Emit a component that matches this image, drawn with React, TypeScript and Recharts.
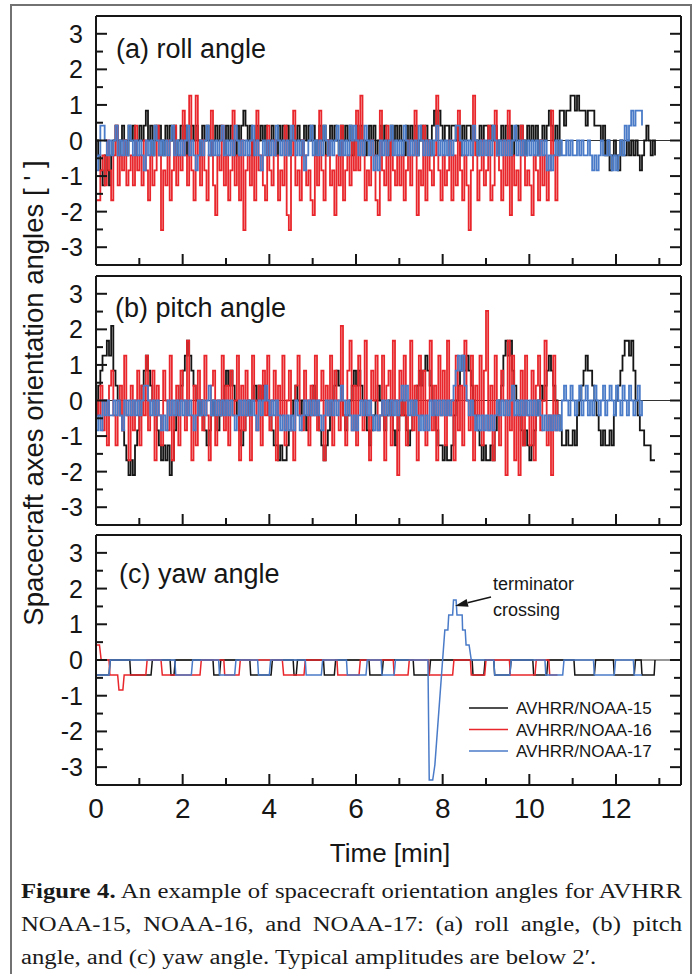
import { LineChart, Line, XAxis, YAxis, ReferenceLine } from 'recharts'

// angles are read in steps of the attitude readout (about 0.42 arcmin)
const STEP = 0.42
// minutes between two samples of the roll / pitch records
const DT = 0.05

const X_TICKS = [0, 1, 2, 3, 4, 5, 6, 7, 8, 9, 10, 11, 12, 13]
const X_LABELS = [0, 2, 4, 6, 8, 10, 12]
const Y_TICKS = [-3, -2.5, -2, -1.5, -1, -0.5, 0, 0.5, 1, 1.5, 2, 2.5, 3]
const Y_LABELS = [-3, -2, -1, 0, 1, 2, 3]

const NAMES = ['AVHRR/NOAA-15', 'AVHRR/NOAA-16', 'AVHRR/NOAA-17']
const COLORS = ['#151515', '#e8262b', '#4a7bc8']

// (a) roll, levels in STEP units, one row per minute
const ROLL_15 = [
  0, -1, -2, -3, -1, -2, -3, -1, 0, 1, -1, 0, 1, 0, -1, 1, 0, 1, -1, 0,
  1, 0, 1, 2, 0, 1, -1, 1, 0, 1, 0, -1, 1, 0, 1, 0, 1, -1, 0, 1,
  0, 1, -1, 0, 1, 0, 1, 0, -1, 1, 0, 1, 0, -1, 0, 1, 0, 1, 0, -1,
  1, 0, 1, 0, -1, 1, 0, 1, 2, 1, 0, 1, -1, 0, 1, 0, 1, 0, 1, -1,
  0, 1, 0, -1, 1, 0, 1, 0, 1, -1, 0, 1, 0, 1, 0, -1, 1, 0, 1, 0,
  1, -1, 0, 1, 0, 1, -1, 0, 1, 0, 1, 0, -1, 1, 0, 1, 0, 1, -1, 0,
  1, 0, 1, 0, -1, 0, 1, 0, 1, -1, 0, 1, 0, 1, 0, -1, 1, 0, 1, 0,
  1, 0, -1, 1, 0, 1, 0, 1, -1, 0, 1, 0, 1, 0, -1, 1, 2, 1, 2, 1,
  0, 1, 1, 0, 1, 1, 0, 1, -1, 1, 0, 1, 1, 0, 1, 0, -1, 1, 0, 1,
  1, 0, 1, 0, 1, -1, 0, 1, 0, 1, 0, 1, -1, 0, 1, 0, 1, 0, -1, 1,
  0, 1, 0, 1, -1, 0, 1, 0, 1, 2, 1, 0, 1, -1, 2, 2, 1, 2, 2, 3,
  3, 2, 3, 2, 2, 2, 1, 2, 2, 2, 1, 1, 1, 0, 1, -1, 0, -2, -1, 0,
  -1, -2, 0, -1, -1, 0, -1, 0, -1, 0, -1, -2, -1, 0, 1, 0, -1, 0, -1,
]
const ROLL_16 = [
  -4, -4, -2, -1, -3, 0, -2, -4, -1, 1, -3, -1, -2, 0, -3, -2, -1, -3, 1, -2,
  -1, -3, 0, -2, -4, -1, -3, -2, 1, -1, -6, -2, -3, 0, -4, -2, 1, -3, -1, -2,
  2, -1, -3, 3, -2, -4, 3, -1, -3, 0, -2, -4, -1, 2, -3, -5, -1, -2, 1, -3,
  -1, -4, -2, 2, -3, -1, -4, 0, -6, -2, -1, -3, 0, -4, 2, -2, -1, -3, -4, 1,
  -2, -3, 0, -1, -4, -2, -3, 1, -5, -6, -1, 2, -3, -2, -4, 0, -1, -3, -2, -4,
  -5, -1, -3, 2, -2, -4, -1, 0, -3, -2, -5, -1, -3, 1, -4, -2, -1, -3, 0, -2,
  2, -2, 3, -1, -4, -2, -3, 0, -1, -4, -5, 2, -2, -3, 1, -4, 0, -2, -3, -1,
  -3, -1, -4, -2, 0, -3, -1, 2, -5, -2, -3, 1, -4, 0, -2, -3, -1, 3, -2, -4,
  -1, -3, -2, 0, -4, -1, -3, 2, -2, -4, -1, -3, -6, -2, 3, -1, -4, -2, 0, -3,
  -2, 1, -4, -3, 2, -1, -2, -4, 0, -3, 2, -5, -1, -3, -2, -4, 1, -1, -3, -2,
  -3, -5, -1, -2, -4, 0, -3, -1, -4, -2, 2, -1, -4, -1,
]
const ROLL_17 = [
  -2, -1, 1, 1, 0, -1, 0, -1, 0, 1, -1, 0, -1, 0, -1, 1, 0, -1, 0, -1,
  0, -1, -2, 0, -1, 0, -1, 1, 0, -1, 0, -1, 0, -1, 0, 1, -1, 0, -1, 0,
  -1, 0, 1, -1, 0, -1, -2, -1, 0, -1, 0, 1, -1, 0, -1, 0, -1, 0, 1, -1,
  0, -1, 0, -1, 1, 0, -1, 0, -1, 0, -1, 0, 1, -1, 0, -1, -2, 0, -1, 0,
  -1, 0, -1, 1, 0, -1, 0, -1, 0, -1, 1, 0, -1, 0, -1, 0, -2, -1, 0, 1,
  -1, 0, -1, 0, -1, 1, 0, -1, 0, -1, 0, 1, -1, 0, -1, 0, -1, 1, 0, 1,
  0, -1, 0, -1, 1, 0, -1, 0, -2, -1, -2, 0, -1, 0, -1, 0, 1, -1, 0, -1,
  0, -1, 1, 0, -1, 0, -1, 0, -1, 1, 0, -1, 0, -1, 0, -1, 0, 1, -1, 0,
  -1, 0, -1, 0, -1, 0, 1, 1, 0, -1, 0, -1, 0, -1, 1, 0, -1, 0, -1, 0,
  -1, 0, -1, 1, 0, -1, 0, -1, 0, -1, 0, -1, 0, 1, -1, 0, -1, 0, -1, 0,
  -1, 0, -1, 0, -1, 0, -1, 0, -2, -1, -2, -1, 0, -1, 0, -1, -1, 0, -1, 0,
  -1, -1, 0, -1, 0, -1, -1, 0, -1, -2, -1, -2, -1, 0, -1, -1, 0, -1, -2, -1,
  -2, -1, 0, -1, 1, 0, 1, 2, 1, 2, 2, 2, 1,
]

// (b) pitch
const PITCH_15 = [
  -1, 1, 2, 3, 3, 4, 3, 5, 2, 1, 0, -1, -2, -3, -4, -5, -4, -5, -3, -2,
  -1, 1, 2, 3, 2, 1, 0, -1, -2, -3, -4, -3, -4, -3, -5, -4, -2, -1, 0, 1,
  2, 3, 4, 3, 2, 1, 0, -1, 0, -1, -2, -3, -2, -1, 0, -1, -2, -1, 0, 1,
  2, 1, 2, 1, 0, -1, -2, -3, -2, -1, 0, -1, 0, 1, 0, 1, 0, 1, 1, 0,
  -1, -2, -3, -3, -4, -3, -4, -4, -3, -2, -1, 0, 1, 0, -1, 0, -1, -2, -1, 0,
  1, 0, -1, -2, -3, -4, -3, -2, -1, 0, 1, 2, 1, 0, -1, -2, -1, 0, 1, 2,
  1, 2, 1, 0, -1, -2, -3, -2, -1, 0, 1, 0, -1, -2, -1, 0, -1, -2, -3, -2,
  -1, 0, -1, -2, -3, -2, -1, 0, 1, 2, 1, 2, 3, 2, 1, 0, -1, -2, -3, -3,
  -4, -3, -4, -4, -3, -1, 0, 1, 2, 3, 2, 3, 2, 1, 0, -1, -2, -3, -4, -3,
  -4, -4, -3, -4, -2, -1, 0, 1, 3, 4, 3, 4, 2, 1, 0, -1, -2, -3, -2, -3,
  -4, -3, -2, -1, 0, 1, 0, 1, 2, 3, 2, 1, 0, -1, -2, -3, -3, -2, -3, -3,
  -2, -3, -1, 0, 1, 2, 3, 2, 2, 1, 0, -1, -2, -3, -2, -3, -3, -2, -3, -1,
  0, 1, 2, 3, 4, 4, 3, 4, 2, 0, -1, -2, -2, -3, -3, -3, -4, -4, -4,
]
const PITCH_16 = [
  0, -1, 1, -2, 0, -3, 1, 2, -1, -3, 0, 1, -2, 3, -1, -4, 1, -2, 0, 2,
  -3, 1, -1, 3, -2, 0, 2, -4, 1, -1, -3, 2, 0, -2, 3, -4, -1, 1, -3, 2,
  0, -2, 4, -1, -4, 1, -3, 2, 0, -2, 3, -1, -4, 1, 2, -3, 0, -1, 3, -2,
  1, -3, 2, -1, 0, 3, -4, 1, -2, 2, -1, -4, 3, 0, -2, 1, -3, 2, -1, 3,
  -2, 0, 2, -4, 1, -1, 3, -3, 0, 2, -2, -4, 1, 3, -1, -2, 2, 0, -3, 1,
  -1, 3, -2, 0, 2, -4, 1, -1, 3, -3, 2, 0, -2, 5, -1, -3, 2, 4, -2, 1,
  -3, 3, 0, -2, 4, -1, -4, 2, 0, 3, -2, -1, 3, -4, 1, 2, -3, 4, 0, -5,
  2, -1, 3, -3, 0, 4, -2, 1, -4, 3, -1, 2, -3, 0, 4, -2, 1, -4, 3, -1,
  2, -3, 4, -1, 0, -4, 3, -2, 1, -3, 4, 0, -2, 3, -4, 1, -1, 3, -3, 2,
  6, -2, 1, -4, 3, -1, -3, 2, 0, -5, 4, -2, 3, -4, -1, -5, 2, -3, 3, -1,
  -3, 2, -4, 1, 3, -2, 0, 4, -3, -1, -5, 3, -2, 0,
]
const PITCH_17 = [
  -2, -1, -2, 0, -1, 0, -1, -1, 0, -1, 0, -1, -2, 0, -1, 0, -1, 0, -1, 0,
  -1, 0, 1, 1, 0, -1, 0, -1, 0, -1, -2, -1, -2, 0, -1, 0, -1, 0, -1, 0,
  -1, 0, -1, 0, -1, -2, -1, 0, -1, 0, -1, 0, 1, -1, 0, -1, 0, -1, 0, -1,
  0, -1, 0, -1, -2, -1, 0, -1, 0, -1, 0, -1, 0, -1, -2, 0, -1, 0, 1, 0,
  -1, 0, -1, 0, -1, -2, -1, -2, -1, -2, -1, -2, 0, -1, -2, -1, 0, -1, 0, -1,
  0, -1, 0, -1, -2, -1, 0, -1, 0, -1, 0, -1, 0, 1, 0, -1, 0, -1, -2, -1,
  -2, -1, 0, -1, 0, -1, 0, -1, -2, -1, -2, -1, 0, -1, 0, -1, 0, -1, 0, -1,
  0, 1, 0, 1, -1, 0, -1, 0, -1, -2, -1, -2, -1, -2, 0, -1, 0, -1, 0, -1,
  0, -1, 0, -1, 0, 1, 2, 3, 2, 3, 1, 0, -1, 0, -1, -2, -1, -2, -1, -2,
  -1, -2, -1, -2, -1, 0, -1, 0, -1, 0, -1, 0, 1, -1, 0, -1, 0, -1, 0, -1,
  0, -1, 0, -1, 0, -1, -2, -1, -2, -1, -2, -1, -2, -1, -2, 0, 1, 0, -1, 1,
  0, -1, 0, 1, -1, 0, 1, -1, 0, -1, 1, 0, -1, 0, 1, -1, 0, 1, 0, -1,
  1, 0, -1, 1, 0, -1, 1, 0, -1, 0, 1, -1, 0,
]

// (c) yaw, [time min, level] corners of the stepped records
const YAW_15 = [
  [0, -1], [0.3, -1], [0.33, 0], [0.78, 0], [0.8, -1], [1.27, -1], [1.3, 0], [1.71, 0],
  [1.73, -1], [1.8, -1], [1.83, 0], [2.7, 0], [2.72, -1], [2.85, -1], [2.88, 0], [3.55, 0],
  [3.57, -1], [4.04, -1], [4.07, 0], [4.55, 0], [4.57, -1], [4.62, -1], [4.65, 0], [5.25, 0],
  [5.27, -1], [5.5, -1], [5.53, 0], [6.3, 0], [6.32, -1], [6.6, -1], [6.63, 0], [7.32, 0],
  [7.34, -1], [7.69, -1], [7.72, 0], [8.68, 0], [8.7, -1], [8.95, -1], [8.98, 0], [9.18, 0],
  [9.2, -1], [9.55, -1], [9.58, 0], [10.08, 0], [10.1, -1], [10.4, -1], [10.43, 0], [11.03, 0],
  [11.05, -1], [11.5, -1], [11.53, 0], [11.94, 0], [11.96, -1], [12.42, -1], [12.45, 0], [12.58, 0],
  [12.6, -1], [12.88, -1], [12.9, 0],
]
const YAW_16 = [
  [0, 1], [0.08, 1], [0.12, 0], [0.3, 0], [0.32, -1], [0.5, -1], [0.53, -2], [0.62, -2],
  [0.65, -1], [1.15, -1], [1.18, 0], [1.5, 0], [1.53, -1], [2.4, -1], [2.43, 0], [2.95, 0],
  [2.97, -1], [3.3, -1], [3.33, 0], [4.3, 0], [4.33, -1], [4.8, -1], [4.83, 0], [5.56, 0],
  [5.58, -1], [6.07, -1], [6.1, 0], [6.86, 0], [6.88, -1], [7.2, -1], [7.23, 0], [7.67, 0],
  [7.69, -1], [8.23, -1], [8.26, 0], [8.64, 0], [8.66, -1], [8.97, -1], [9.0, 0], [9.54, 0],
  [9.56, -1], [10.13, -1], [10.16, 0], [10.45, 0], [10.47, -1], [10.65, -1],
]
const YAW_17 = [
  [0, -1], [0.3, -1], [0.33, 0], [1.82, 0], [1.84, -1], [2.2, -1], [2.23, 0], [2.83, 0],
  [2.85, -1], [3.2, -1], [3.23, 0], [3.73, 0], [3.75, -1], [4.0, -1], [4.03, 0], [4.83, 0],
  [4.85, -1], [5.2, -1], [5.23, 0], [5.78, 0], [5.8, -1], [6.23, -1], [6.26, 0], [6.58, 0],
  [6.6, -1], [6.88, -1], [6.91, 0], [7.66, 0], [7.69, -8], [7.77, -8], [7.82, -7], [8.05, 2],
  [8.12, 2], [8.14, 3], [8.23, 3], [8.25, 4], [8.31, 4], [8.33, 3], [8.45, 3], [8.46, 2],
  [8.52, 2], [8.54, 1], [8.61, 1], [8.66, 0], [9.18, 0], [9.2, -1], [9.55, -1], [9.58, 0],
  [10.36, 0], [10.38, -1], [10.77, -1], [10.8, 0], [11.48, 0], [11.5, -1], [11.96, -1], [11.99, 0],
  [12.4, 0], [12.42, -1], [12.6, -1],
]

const sampled = (levels: number[]) =>
  levels.map((l, i) => ({ t: Math.round(i * DT * 100) / 100, v: l * STEP }))
const stepped = (pts: number[][]) => pts.map(([t, l]) => ({ t, v: l * STEP }))

const INK = '#161616'
const SANS = 'Liberation Sans, Arial, Helvetica, sans-serif'
const SERIF = 'Liberation Serif, Times New Roman, serif'
const FRAME = { stroke: INK, strokeWidth: 2 }

// plot box, page pixels
const LEFT = 96
const RIGHT = 681

function LeftTick({ x, y, payload }: any) {
  const major = Y_LABELS.includes(payload.value)
  return (
    <g>
      <line x1={x} x2={x + (major ? 11 : 7)} y1={y} y2={y} stroke={INK} strokeWidth={2} />
      {major && (
        <text x={x - 13} y={y} dy="0.36em" textAnchor="end" fontSize={25} fill={INK} fontFamily={SANS}>
          {payload.value}
        </text>
      )}
    </g>
  )
}

function RightTick({ x, y, payload }: any) {
  const major = Y_LABELS.includes(payload.value)
  return <line x1={x} x2={x - (major ? 11 : 7)} y1={y} y2={y} stroke={INK} strokeWidth={2} />
}

function TopTick({ x, y, payload }: any) {
  const major = X_LABELS.includes(payload.value)
  return <line x1={x} x2={x} y1={y} y2={y + (major ? 11 : 7)} stroke={INK} strokeWidth={2} />
}

function makeBottomTick(showLabels: boolean) {
  return ({ x, y, payload }: any) => {
    const major = X_LABELS.includes(payload.value)
    return (
      <g>
        <line x1={x} x2={x} y1={y} y2={y - (major ? 11 : 7)} stroke={INK} strokeWidth={2} />
        {showLabels && major && (
          <text x={x} y={y + 33} textAnchor="middle" fontSize={28} fill={INK} fontFamily={SANS}>
            {payload.value}
          </text>
        )}
      </g>
    )
  }
}

interface PanelProps {
  top: number
  plotH: number
  series: { t: number; v: number }[][]
  curve: 'stepAfter' | 'linear'
  width: number
  labels?: boolean
}

function Panel({ top, plotH, series, curve, width, labels = false }: PanelProps) {
  const bottomH = labels ? 45 : 10
  return (
    <div style={{ position: 'absolute', left: 0, top: top - 10 }}>
      <LineChart width={696} height={10 + plotH + bottomH} margin={{ top: 0, right: 0, bottom: 0, left: 0 }}>
        <XAxis
          xAxisId="b" dataKey="t" type="number" domain={[0, 13.5]} ticks={X_TICKS} interval={0}
          height={bottomH} tickSize={0} tickMargin={0} tickLine={false} axisLine={FRAME}
          tick={makeBottomTick(labels)} allowDataOverflow
        />
        <XAxis
          xAxisId="t" orientation="top" type="number" domain={[0, 13.5]} ticks={X_TICKS} interval={0}
          height={10} tickSize={0} tickMargin={0} tickLine={false} axisLine={FRAME}
          tick={TopTick} allowDataOverflow
        />
        <YAxis
          yAxisId="l" type="number" domain={[-3.5, 3.5]} ticks={Y_TICKS} interval={0}
          width={LEFT} tickSize={0} tickMargin={0} tickLine={false} axisLine={FRAME}
          tick={LeftTick} allowDataOverflow
        />
        <YAxis
          yAxisId="r" orientation="right" type="number" domain={[-3.5, 3.5]} ticks={Y_TICKS} interval={0}
          width={696 - RIGHT} tickSize={0} tickMargin={0} tickLine={false} axisLine={FRAME}
          tick={RightTick} allowDataOverflow
        />
        <ReferenceLine xAxisId="b" yAxisId="l" y={0} stroke="#333" strokeWidth={1.2} />
        {series.map((d, i) => (
          <Line
            key={NAMES[i]}
            xAxisId="b"
            yAxisId="l"
            data={d}
            dataKey="v"
            name={NAMES[i]}
            type={curve}
            stroke={COLORS[i]}
            strokeWidth={width}
            dot={false}
            isAnimationActive={false}
          />
        ))}
      </LineChart>
    </div>
  )
}

// annotation arrow for the terminator crossing, page pixels
const ARROW_TAIL = [491, 597]
const ARROW_TIP = [455, 606]

function Arrow() {
  const [x1, y1] = ARROW_TAIL
  const [x2, y2] = ARROW_TIP
  const len = Math.hypot(x2 - x1, y2 - y1)
  const ux = (x2 - x1) / len
  const uy = (y2 - y1) / len
  const bx = x2 - ux * 13
  const by = y2 - uy * 13
  const w = 4
  return (
    <g>
      <line x1={x1} y1={y1} x2={bx} y2={by} stroke={INK} strokeWidth={1.5} />
      <polygon points={`${x2},${y2} ${bx - uy * w},${by + ux * w} ${bx + uy * w},${by - ux * w}`} fill={INK} />
    </g>
  )
}

const PANEL_LABELS = [
  { text: '(a) roll angle', x: 116, y: 58 },
  { text: '(b) pitch angle', x: 115, y: 317 },
  { text: '(c) yaw angle', x: 119, y: 583 },
]

// the caption face is set wide: 20px glyphs stretched sideways
const CAPTION_STRETCH = 1.235
const CAPTION_W = 661

export default function App() {
  const line = { whiteSpace: 'nowrap' as const, textAlign: 'justify' as const, textAlignLast: 'justify' as const }
  return (
    <div style={{ position: 'absolute', left: 0, top: 0, width: 696, height: 974, overflow: 'hidden', background: '#fff' }}>
      <div
        style={{
          position: 'absolute', left: 10, top: 4, width: 682, height: 1000,
          border: '2px solid #727272', boxSizing: 'border-box',
        }}
      />
      <Panel top={16} plotH={249} curve="stepAfter" width={1.8}
        series={[sampled(ROLL_15), sampled(ROLL_16), sampled(ROLL_17)]} />
      <Panel top={276} plotH={249} curve="stepAfter" width={1.8}
        series={[sampled(PITCH_15), sampled(PITCH_16), sampled(PITCH_17)]} />
      <Panel top={535} plotH={250} curve="linear" width={1.5} labels
        series={[stepped(YAW_15), stepped(YAW_16), stepped(YAW_17)]} />

      <svg width={696} height={974} style={{ position: 'absolute', left: 0, top: 0, pointerEvents: 'none' }}>
        {PANEL_LABELS.map(p => (
          <text key={p.text} x={p.x} y={p.y} fontSize={27} fill={INK} fontFamily={SANS}>{p.text}</text>
        ))}
        <text
          transform="translate(43 393) rotate(-90)" textAnchor="middle"
          fontSize={27.5} fill={INK} fontFamily={SANS}
        >
          Spacecraft axes orientation angles [ ' ]
        </text>
        <text x={390} y={862} textAnchor="middle" fontSize={26} fill={INK} fontFamily={SANS}>Time [min]</text>

        {NAMES.map((n, i) => (
          <g key={n}>
            <line x1={469} x2={508} y1={708 + i * 21.5} y2={708 + i * 21.5} stroke={COLORS[i]} strokeWidth={1.5} />
            <text x={516} y={708 + i * 21.5 + 6} fontSize={17} fill={INK} fontFamily={SANS}>{n}</text>
          </g>
        ))}

        <text x={493} y={590} fontSize={18} fill={INK} fontFamily={SANS}>terminator</text>
        <text x={493} y={616} fontSize={18} fill={INK} fontFamily={SANS}>crossing</text>
        <Arrow />
      </svg>

      <div
        style={{
          position: 'absolute', left: 21, top: 875, width: CAPTION_W / CAPTION_STRETCH,
          transform: `scaleX(${CAPTION_STRETCH})`, transformOrigin: 'left top',
          fontFamily: SERIF, fontSize: 20, lineHeight: '33px', color: '#1a1a1a',
        }}
      >
        <div style={{ ...line, wordSpacing: -1 }}>
          <b>Figure 4.</b> An example of spacecraft orientation angles for AVHRR
        </div>
        <div style={line}>NOAA-15, NOAA-16, and NOAA-17: (a) roll angle, (b) pitch</div>
        <div style={{ whiteSpace: 'nowrap' }}>angle, and (c) yaw angle. Typical amplitudes are below 2′.</div>
      </div>
    </div>
  )
}
